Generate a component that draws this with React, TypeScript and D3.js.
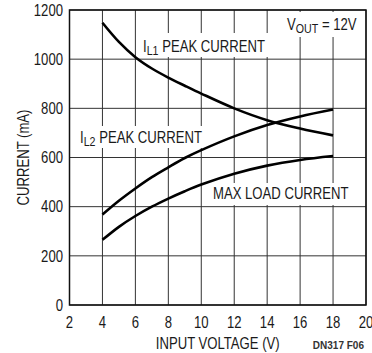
import React from 'react';
import * as d3 from 'd3';

// values
const voltage = [4, 5, 6, 7, 8, 9, 10, 12, 14, 16, 18];
const il1Peak = [1148, 1070, 1008, 962, 925, 892, 860, 800, 752, 718, 690];
const il2Peak = [368, 424, 474, 520, 560, 598, 630, 686, 732, 767, 795];
const maxLoad = [265, 318, 362, 400, 433, 463, 490, 534, 567, 590, 606];

const xTicks = [2, 4, 6, 8, 10, 12, 14, 16, 18, 20];
const yTicks = [0, 200, 400, 600, 800, 1000, 1200];

const W = 372;
const H = 353;
const FONT = "'Liberation Sans', Arial, sans-serif";
const NARROW = 0.82;

// condensed text: Arial metrics squeezed horizontally
const NText = ({ x, y, anchor = 'start', size = 16, rotate = 0, dy = undefined, children }: any) => (
  <text
    transform={`translate(${x},${y})${rotate ? ` rotate(${rotate})` : ''} scale(${NARROW},1)`}
    textAnchor={anchor}
    fontSize={size}
    dy={dy}
  >
    {children}
  </text>
);

const App = () => {
  const x = d3.scaleLinear().domain([2, 20]).range([69.5, 366]);
  const y = d3.scaleLinear().domain([0, 1200]).range([305, 10]);

  const line = d3.line<number>()
    .x((d, i) => x(voltage[i]))
    .y(d => y(d))
    .curve(d3.curveCatmullRom.alpha(0.5));

  const series = [il1Peak, il2Peak, maxLoad];

  return (
    <svg width={W} height={H} style={{ position: 'absolute', left: 0, top: 0, background: '#fff' }}
      fontFamily={FONT}>
      {/* grid */}
      <g stroke="#333" strokeWidth={1}>
        {xTicks.map(t => (
          <line key={'gx' + t} x1={x(t)} x2={x(t)} y1={y(1200)} y2={y(0)} />
        ))}
        {yTicks.map(t => (
          <line key={'gy' + t} x1={x(2)} x2={x(20)} y1={y(t)} y2={y(t)} />
        ))}
      </g>
      <rect x={x(2)} y={y(1200)} width={x(20) - x(2)} height={y(0) - y(1200)}
        fill="none" stroke="#111" strokeWidth={1.5} />

      {/* white boxes behind labels */}
      <g fill="#fff">
        <rect x={136} y={33} width={134} height={24} />
        <rect x={75} y={126} width={128} height={22} />
        <rect x={281} y={12} width={83} height={25} />
        <rect x={207} y={183} width={147} height={22} />
      </g>

      {/* curves */}
      {series.map((s, i) => (
        <path key={i} d={line(s)} fill="none" stroke="#000" strokeWidth={2.6} />
      ))}

      <g fill="#1a1a1a">
        {/* tick labels */}
        {yTicks.map(t => (
          <NText key={'ly' + t} x={63} y={y(t)} dy="0.36em" anchor="end">{t}</NText>
        ))}
        {xTicks.map(t => (
          <NText key={'lx' + t} x={x(t)} y={322} dy="0.36em" anchor="middle">{t}</NText>
        ))}

        {/* axis titles */}
        <NText x={x(11)} y={349} anchor="middle">INPUT VOLTAGE (V)</NText>
        <NText x={29} y={y(600)} rotate={-90} anchor="middle">CURRENT (mA)</NText>

        {/* curve labels */}
        <NText x={143} y={52}>I<tspan fontSize={13} dy={3}>L1</tspan><tspan dy={-3}> PEAK CURRENT</tspan></NText>
        <NText x={80} y={143}>I<tspan fontSize={13} dy={3}>L2</tspan><tspan dy={-3}> PEAK CURRENT</tspan></NText>
        <NText x={287} y={29.5}>V<tspan fontSize={13} dy={3}>OUT</tspan><tspan dy={-3}> = 12V</tspan></NText>
        <NText x={213} y={199}>MAX LOAD CURRENT</NText>
      </g>
      <text x={364} y={349} fontSize={10} fontWeight="bold" fill="#333" textAnchor="end">DN317 F06</text>
    </svg>
  );
};

export default App;
